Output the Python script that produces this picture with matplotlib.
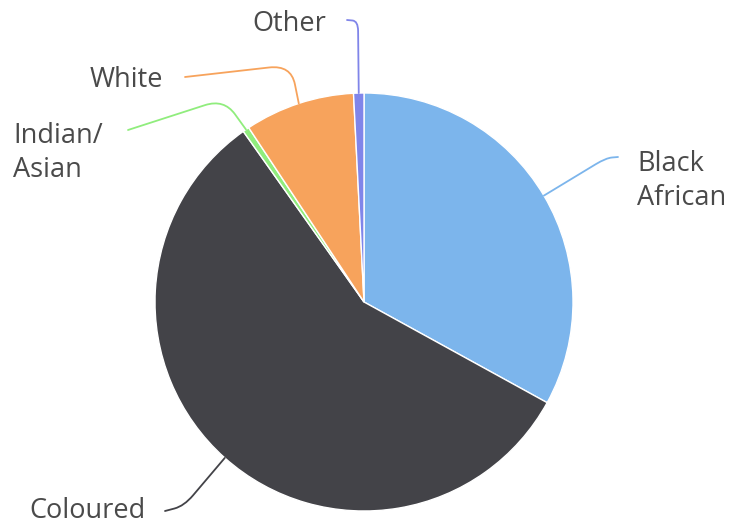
import numpy as np
import matplotlib.pyplot as plt
from matplotlib.path import Path
from matplotlib.patches import PathPatch

# population groups, share in percent
groups = ['Black\nAfrican', 'Coloured', 'Indian/\nAsian', 'White', 'Other']
share = [33.0, 57.2, 0.5, 8.5, 0.8]
colors = ['#7cb5ec', '#434348', '#90ed7d', '#f7a35c', '#8085e9']

W, H = 731, 526
CX, CY, R = 364, 302, 209


def px(x, y):
    # pixel position (from top-left) -> data coords centred on the pie
    return np.array([x - CX, CY - y], dtype=float)


# connector end, connector bend, bend rounding, text anchor, alignment
layout = [
    dict(end=(618, 157), corner=(606, 158), d=12, text=(637, 181), ha='left'),
    dict(end=(165, 511), corner=(184, 506), d=14, text=(146, 511), ha='right'),
    dict(end=(128, 130), corner=(224, 99), d=20, text=(13, 153), ha='left'),
    dict(end=(185, 77), corner=(291, 65), d=22, text=(163, 80), ha='right'),
    dict(end=(347, 20), corner=(358, 21), d=10, text=(326, 24), ha='right'),
]

plt.rcParams['font.family'] = ['Open Sans', 'DejaVu Sans']

fig = plt.figure(figsize=(W / 100, H / 100), dpi=100)
ax = fig.add_axes([0, 0, 1, 1])

wedges, _ = ax.pie(share, colors=colors, radius=R, center=(0, 0),
                   startangle=90, counterclock=False,
                   wedgeprops=dict(edgecolor='white', linewidth=1.0))


def rounded(p0, c, p2, d=12):
    a = c + (p0 - c) * min(d, np.linalg.norm(p0 - c) / 2) / np.linalg.norm(p0 - c)
    b = c + (p2 - c) * min(d, np.linalg.norm(p2 - c) / 2) / np.linalg.norm(p2 - c)
    verts = [p0, a, c, b, p2]
    codes = [Path.MOVETO, Path.LINETO, Path.CURVE3, Path.CURVE3, Path.LINETO]
    return Path(verts, codes)


for w, name, col, lay in zip(wedges, groups, colors, layout):
    mid = np.deg2rad((w.theta1 + w.theta2) / 2)
    start = np.array([R * np.cos(mid), R * np.sin(mid)])
    path = rounded(start, px(*lay['corner']), px(*lay['end']), lay['d'])
    ax.add_patch(PathPatch(path, facecolor='none', edgecolor=col, lw=1.3,
                           capstyle='round', joinstyle='round'))
    tx, ty = px(*lay['text'])
    ax.text(tx, ty, name, ha=lay['ha'], va='center', ma='left',
            fontsize=19.5, color='#4a4a4a', linespacing=1.32)

ax.set_xlim(-CX, W - CX)
ax.set_ylim(CY - H, CY)
ax.set_aspect('equal')
ax.axis('off')

fig.savefig('out.png', dpi=100, facecolor='white')
